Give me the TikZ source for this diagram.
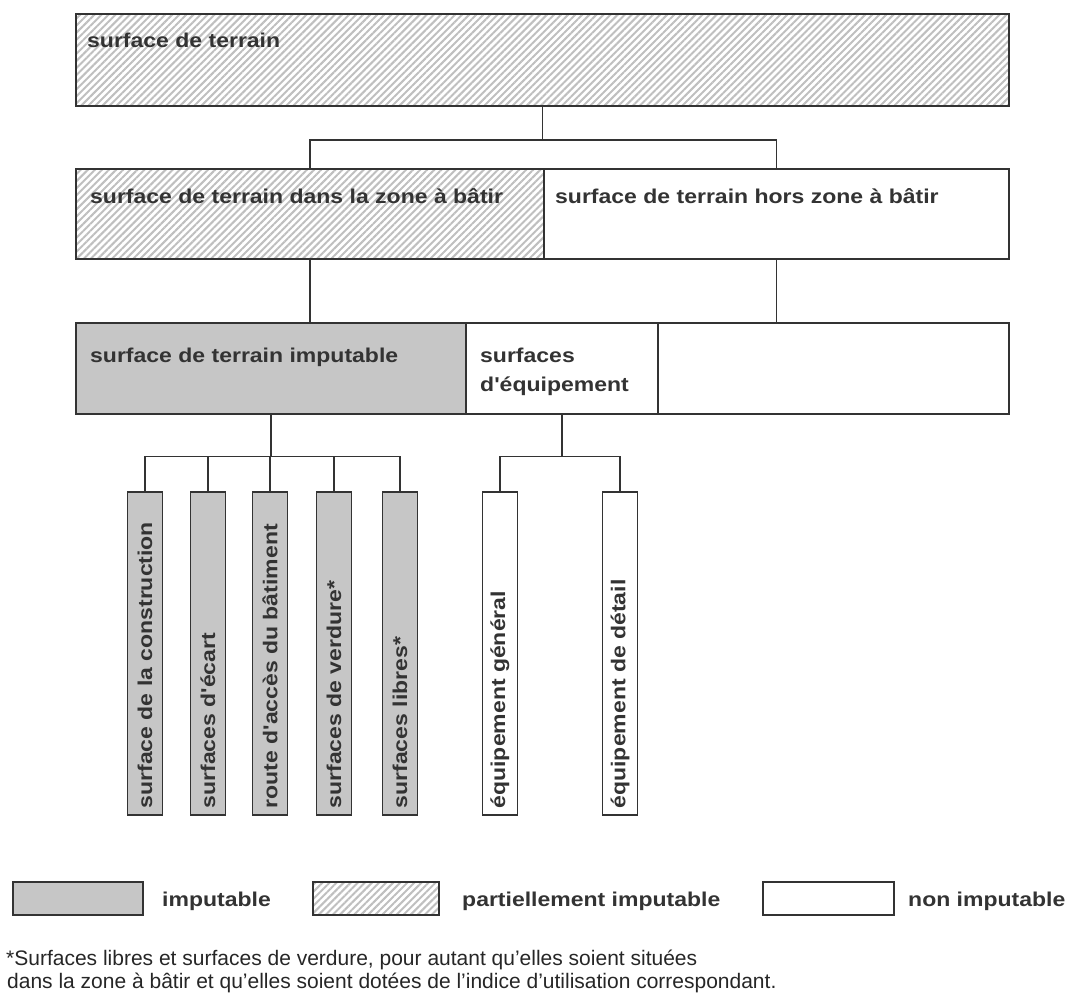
\documentclass[tikz,border=0pt]{standalone}
\usepackage{fontspec}
\setmainfont{Liberation Sans}
\newfontfamily\boxfont[FakeStretch=1.15]{Liberation Sans}
\usetikzlibrary{positioning, calc, patterns.meta}

\tikzset{
  box/.style={draw=black!80, line width=1.5pt, rectangle, inner sep=0pt, anchor=north west},
  hatched/.style={box, pattern={Lines[angle=45, distance=5pt, line width=2pt]}, pattern color=gray!50},
  imputbox/.style={box, fill=gray!45},
  freebox/.style={box, fill=white},
  boxtext/.style={anchor=base west, inner sep=0pt, align=left, text=black!80,
    font=\boxfont\bfseries\fontsize{20}{29}\selectfont},
  bar/.style={box, anchor=north, minimum width=35pt, minimum height=323pt},
  bartext/.style={rotate=90, anchor=west, inner sep=0pt, text=black!80,
    font=\boxfont\bfseries\fontsize{20}{22}\selectfont},
  link/.style={draw=black!80, line width=1.5pt},
  notetext/.style={anchor=base west, inner sep=0pt, text=black!85,
    font=\fontsize{21}{23}\selectfont}
}

\begin{document}
\begin{tikzpicture}[x=1pt, y=-1pt]
  \useasboundingbox (0,0) rectangle (1066,993);

  % top level
  \node[hatched, minimum width=933pt, minimum height=92pt] (terrain) at (75,13) {};
  \node[boxtext] (terrainlbl) at (87,47) {surface de terrain};

  % building zone split
  \node[hatched, minimum width=468pt, minimum height=90pt] (zone) at (75,168) {};
  \node[freebox, minimum width=465pt, minimum height=90pt] (hors) at (543,168) {};
  \node[boxtext] (zonelbl) at (90,203) {surface de terrain dans la zone à bâtir};
  \node[boxtext] (horslbl) at (555,203) {surface de terrain hors zone à bâtir};

  % third row
  \node[imputbox, minimum width=390pt, minimum height=91pt] (imput) at (75,322) {};
  \node[freebox, minimum width=192pt, minimum height=91pt] (equip) at (465,322) {};
  \node[freebox, minimum width=351pt, minimum height=91pt] (reste) at (657,322) {};
  \node[boxtext] (imputlbl) at (90,362) {surface de terrain imputable};
  \node[boxtext] (equiplbl) at (480,391) {surfaces\\d'équipement};

  % bars
  \node[bar, fill=gray!45] (b1) at (145,491) {};
  \node[bar, fill=gray!45] (b2) at (208,491) {};
  \node[bar, fill=gray!45] (b3) at (270,491) {};
  \node[bar, fill=gray!45] (b4) at (334,491) {};
  \node[bar, fill=gray!45] (b5) at (400,491) {};
  \node[bar, fill=white] (g1) at (500,491) {};
  \node[bar, fill=white] (g2) at (620,491) {};

  \node[bartext] (b1lbl) at ($(b1.south)+(0,-7)$) {surface de la construction};
  \node[bartext] (b2lbl) at ($(b2.south)+(0,-7)$) {surfaces d'écart};
  \node[bartext] (b3lbl) at ($(b3.south)+(0,-7)$) {route d'accès du bâtiment};
  \node[bartext] (b4lbl) at ($(b4.south)+(0,-7)$) {surfaces de verdure*};
  \node[bartext] (b5lbl) at ($(b5.south)+(0,-7)$) {surfaces libres*};
  \node[bartext] (g1lbl) at ($(g1.south)+(0,-7)$) {équipement général};
  \node[bartext] (g2lbl) at ($(g2.south)+(0,-7)$) {équipement de détail};

  % connectors
  \coordinate (split1) at ($(terrain.south)+(0,33)$);
  \coordinate (split2) at ($(imput.south)+(0,42)$);
  \coordinate (split3) at ($(equip.south)+(0,42)$);
  \draw[link] (terrain.south) -- (split1);
  \draw[link] (zone.north) |- (split1) -| (hors.north);
  \draw[link] (zone.south) -- (zone.south |- imput.north);
  \draw[link] (hors.south) -- (hors.south |- reste.north);
  \draw[link] (imput.south) -- (split2);
  \draw[link] (b1.north) |- (split2) -| (b5.north);
  \draw[link] (b2.north) -- (b2.north |- split2);
  \draw[link] (b3.north) -- (b3.north |- split2);
  \draw[link] (b4.north) -- (b4.north |- split2);
  \draw[link] (equip.south) -- (split3);
  \draw[link] (g1.north) |- (split3) -| (g2.north);

  % legend
  \node[box, fill=gray!45, minimum width=130pt, minimum height=33pt] (keyimput) at (12,881) {};
  \node[hatched, minimum width=126pt, minimum height=33pt] (keypart) at (312,881) {};
  \node[freebox, minimum width=131pt, minimum height=33pt] (keynon) at (762,881) {};
  \node[boxtext] (keyimputlbl) at (162,906) {imputable};
  \node[boxtext] (keypartlbl) at (462,906) {partiellement imputable};
  \node[boxtext] (keynonlbl) at (908,906) {non imputable};

  % footnote
  \node[notetext] (note1) at (6,965) {*Surfaces libres et surfaces de verdure, pour autant qu'elles soient situées};
  \node[notetext] (note2) at (7,988) {dans la zone à bâtir et qu'elles soient dotées de l'indice d'utilisation correspondant.};
\end{tikzpicture}
\end{document}
